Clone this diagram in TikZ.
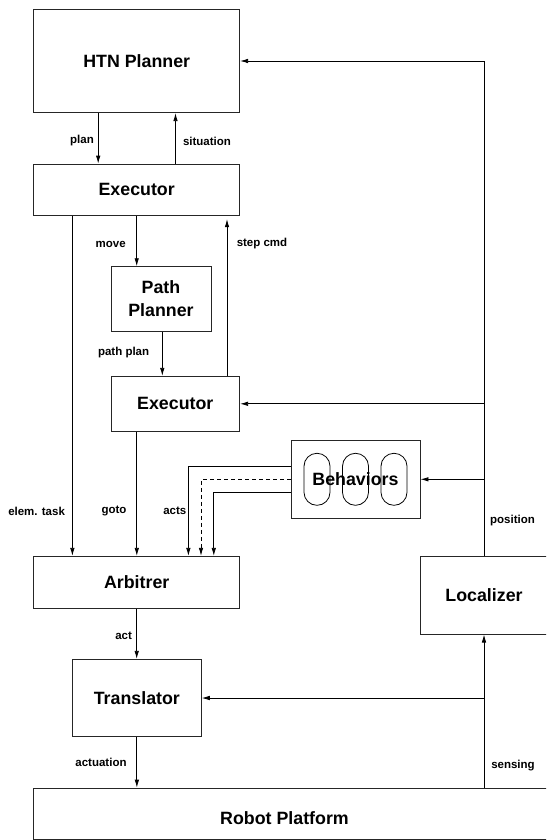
\documentclass[tikz,border=0pt]{standalone}
\usepackage{fontspec}
\setmainfont{Liberation Sans}
\usetikzlibrary{arrows.meta,positioning}
\tikzset{
  box/.style={draw, rectangle, line width=0.9pt, draw=black!85, inner sep=0pt, font=\fontsize{17.8}{20}\selectfont\bfseries},
  pill/.style={draw, rectangle, rounded corners=12.9pt, line width=0.8pt, minimum width=26pt, minimum height=52pt, inner sep=0pt},
  lbl/.style={inner sep=0pt, font=\fontsize{11.5}{13}\selectfont\bfseries},
  arr/.style={-{Latex[length=8pt,width=4.5pt]}, line width=0.8pt},
  line/.style={line width=0.8pt}
}
\begin{document}
\begin{tikzpicture}[x=1pt,y=-1pt]
        \useasboundingbox (0,0) rectangle (546,840);
        \clip (0,0) rectangle (546,840);
        % boxes
        \node[box, minimum width=205.8pt, minimum height=103.4pt] (htn) at (136.7,61) {HTN Planner};
        \node[box, minimum width=205.8pt, minimum height=51.7pt] (exec1) at (136.7,189.9) {Executor};
        \node[box, minimum width=100pt, minimum height=64.6pt, align=center] (pathplanner) at (161,299) {Path\\[3pt]Planner};
        \node[box, minimum width=128.6pt, minimum height=55pt] (exec2) at (175.3,403.8) {Executor};
        \foreach \i/\px in {1/317,2/355.5,3/394}
            \node[pill] (pill\i) at (\px,479.3) {};
        \node[box, minimum width=129pt, minimum height=77.3pt] (behaviors) at (355.5,479.3) {Behaviors};
        \node[box, minimum width=205.8pt, minimum height=51.7pt] (arbitrer) at (136.7,582.2) {Arbitrer};
        \node[box, minimum width=128pt, minimum height=77.7pt] (localizer) at (484,595.2) {Localizer};
        \node[box, minimum width=128.9pt, minimum height=77.4pt] (translator) at (136.85,698) {Translator};
        \node[box, minimum width=530pt, minimum height=51pt] (robot) at (298.8,813.6) {};
        \node[box, draw=none] (robottext) at (284.5,817.7) {Robot Platform};
        % planner and executors
        \draw[arr] ([xshift=-38.5pt]htn.south) -- ([xshift=-38.5pt]htn.south |- exec1.north);
        \draw[arr] ([xshift=38.8pt]exec1.north) -- ([xshift=38.8pt]exec1.north |- htn.south);
        \draw[arr] (exec1.south) -- (exec1.south |- pathplanner.north);
        \draw[arr] ([xshift=1.3pt]pathplanner.south) -- ([xshift=1.3pt]pathplanner.south |- exec2.north);
        \draw[arr, shorten >=3pt] ([xshift=51.7pt]exec2.north) -- ([xshift=51.7pt]exec2.north |- exec1.south);
        \draw[arr] ([xshift=-64.3pt]exec1.south) -- ([xshift=-64.3pt]exec1.south |- arbitrer.north);
        \draw[arr] ([xshift=-38.5pt]exec2.south) -- ([xshift=-38.5pt]exec2.south |- arbitrer.north);
        % behaviors to arbitrer
        \draw[arr] ([yshift=12.7pt]behaviors.west) -| ([xshift=51.7pt]arbitrer.north);
        \draw[arr, dashed, dash pattern=on 4pt off 3pt] (behaviors.west) -| ([xshift=64.3pt]arbitrer.north);
        \draw[arr] ([yshift=-13.4pt]behaviors.west) -| ([xshift=77.1pt]arbitrer.north);
        % lower chain
        \draw[arr] (arbitrer.south) -- (arbitrer.south |- translator.north);
        \draw[arr] (translator.south) -- (translator.south |- robot.north);
        % localizer feedback
        \draw[arr] (localizer.north) |- (htn.east);
        \draw[arr] (localizer.north |- exec2.east) -- (exec2.east);
        \draw[arr] (localizer.north |- behaviors.east) -- (behaviors.east);
        \draw[arr] (localizer.south |- robot.north) -- (localizer.south);
        \draw[arr] (localizer.south |- translator.east) -- (translator.east);
        % labels
        \node[lbl] (planlbl) at (82,141) {plan};
        \node[lbl] (situationlbl) at (207,141) {situation};
        \node[lbl] (movelbl) at (110.7,244) {move};
        \node[lbl] (stepcmdlbl) at (262,244) {step cmd};
        \node[lbl] (pathplanlbl) at (123.6,353) {path plan};
        \node[lbl] (elemtasklbl) at (36.6,511) {elem. task};
        \node[lbl] (gotolbl) at (114,511.3) {goto};
        \node[lbl] (actslbl) at (174.8,511) {acts};
        \node[lbl] (positionlbl) at (512.5,521) {position};
        \node[lbl] (actlbl) at (123.6,636) {act};
        \node[lbl] (actuationlbl) at (101,762.3) {actuation};
        \node[lbl] (sensinglbl) at (513,765.3) {sensing};
    \end{tikzpicture}
\end{document}
